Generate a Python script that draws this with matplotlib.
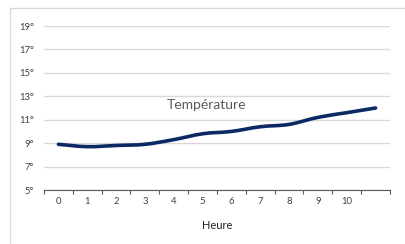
import matplotlib.pyplot as plt
from matplotlib.path import Path
from matplotlib.patches import PathPatch, Rectangle
import numpy as np

plt.rcParams['font.family'] = ['Lato', 'DejaVu Sans']

heures = ["0", "1", "2", "3", "4", "5", "6", "7", "8", "9", "10", ""]
temperature = [8.9, 8.7, 8.8, 8.9, 9.3, 9.8, 10.0, 10.4, 10.6, 11.2, 11.6, 12.0]
y_ticks = [5, 7, 9, 11, 13, 15, 17, 19]


def smooth_path(xs, ys):
    """Courbe lissée façon tableur (Catmull-Rom -> Bézier)."""
    pts = list(zip(xs, ys))
    verts = [pts[0]]
    codes = [Path.MOVETO]
    n = len(pts)
    for i in range(n - 1):
        p0 = pts[i - 1] if i > 0 else pts[i]
        p1 = pts[i]
        p2 = pts[i + 1]
        p3 = pts[i + 2] if i + 2 < n else pts[i + 1]
        c1 = (p1[0] + (p2[0] - p0[0]) / 6, p1[1] + (p2[1] - p0[1]) / 6)
        c2 = (p2[0] - (p3[0] - p1[0]) / 6, p2[1] - (p3[1] - p1[1]) / 6)
        verts += [c1, c2, p2]
        codes += [Path.CURVE4] * 3
    return Path(verts, codes)


fig = plt.figure(figsize=(4.06, 2.44), dpi=100)
fig.patches.append(Rectangle((10 / 406, -0.05), 1.0, 1 - 8 / 244 + 0.05,
                             transform=fig.transFigure, fill=False,
                             edgecolor='#d9d9d9', linewidth=1.0))
ax = fig.add_axes([44 / 406, 54 / 244, 346 / 406, 164 / 244])

x = np.arange(len(temperature))
ax.add_patch(PathPatch(smooth_path(x, temperature), fill=False,
                       edgecolor='#0b2a63', linewidth=2.6,
                       capstyle='round', joinstyle='round', zorder=3))

ax.set_xlim(-0.5, len(heures) - 0.5)
ax.set_ylim(5, 19)
ax.set_yticks(y_ticks)
ax.set_yticklabels([f"{v}°" for v in y_ticks])
ax.set_xticks(np.arange(len(heures) + 1) - 0.5)
ax.set_xticklabels([])
ax.set_xticks(x, minor=True)
ax.set_xticklabels(heures, minor=True)

ax.grid(True, axis='y', color='#d9d9d9', linewidth=1.0)
ax.set_axisbelow(True)
for side in ['top', 'right', 'left']:
    ax.spines[side].set_visible(False)
ax.spines['bottom'].set_color('#595959')
ax.spines['bottom'].set_linewidth(0.8)

ax.tick_params(axis='y', length=0, pad=7, labelsize=6.8, labelcolor='#404040')
ax.tick_params(axis='x', which='major', length=3, width=0.8, color='#595959', direction='out')
ax.tick_params(axis='x', which='minor', length=0, pad=5, labelsize=6.8, labelcolor='#404040')

ax.set_xlabel("Heure", fontsize=8, labelpad=10, color='#222222')
ax.text(0.47, 0.52, "Température", transform=ax.transAxes, ha='center', va='center',
        fontsize=10, color='#595959')

fig.savefig("out.png", dpi=100)
